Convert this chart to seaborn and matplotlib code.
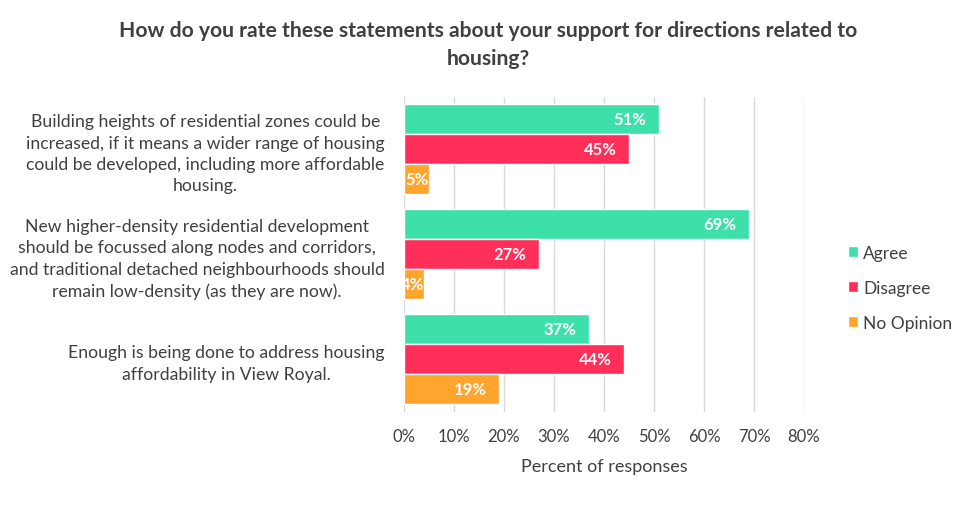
import matplotlib
matplotlib.use("Agg")
import matplotlib.pyplot as plt
import seaborn as sns
import pandas as pd

# survey data (percent of responses)
statements = [
    "Building heights of residential zones could be\nincreased, if it means a wider range of housing\ncould be developed, including more affordable\nhousing.",
    "New higher-density residential development\nshould be focussed along nodes and corridors,\nand traditional detached neighbourhoods should\nremain low-density (as they are now).",
    "Enough is being done to address housing\naffordability in View Royal.",
]
responses = ["Agree", "Disagree", "No Opinion"]
agree = [51, 69, 37]
disagree = [45, 27, 44]
no_opinion = [5, 4, 19]
x_ticks = [0, 10, 20, 30, 40, 50, 60, 70, 80]

colors = {"Agree": "#3ee0a9", "Disagree": "#ff2f5a", "No Opinion": "#ffa42c"}
text_col = "#404040"

rows = []
for i, s in enumerate(statements):
    for r, vals in zip(responses, [agree, disagree, no_opinion]):
        rows.append({"statement": s, "response": r, "pct": vals[i]})
df = pd.DataFrame(rows)

sns.set_style("white")
plt.rcParams["font.family"] = ["Lato", "DejaVu Sans"]

fig = plt.figure(figsize=(9.76, 5.06), dpi=100)
ax = fig.add_axes([404 / 976, 1 - 412.5 / 506, 400 / 976, 315 / 506])

sns.barplot(data=df, x="pct", y="statement", hue="response", orient="h",
            palette=colors, width=0.86, saturation=1, ax=ax, legend=True)

# value labels inside the bar ends (small bars: flush with the end, clipped)
for cont in ax.containers:
    for bar in cont:
        w = bar.get_width()
        pad = -9 if w > 8 else 0
        ax.annotate(f"{w:.0f}%", (w, bar.get_y() + bar.get_height() / 2),
                    xytext=(pad, 0), textcoords="offset points",
                    ha="right", va="center", color="white",
                    fontsize=12, fontweight="bold", annotation_clip=True,
                    clip_on=True)

ax.set_xlim(0, 80)
ax.set_xticks(x_ticks)
ax.set_xticklabels([f"{t}%" for t in x_ticks], fontsize=12, color=text_col)
ax.set_ylim(2.5, -0.5)
ax.set_yticks(range(len(statements)))
ax.set_yticklabels(statements, fontsize=12.7, color=text_col,
                   multialignment="center", linespacing=1.42)
ax.tick_params(axis="y", length=0, pad=14)
ax.tick_params(axis="x", length=0, pad=12)
ax.grid(axis="x", color="#d9d9d9", linewidth=1)
ax.set_axisbelow(True)
for sp in ax.spines.values():
    sp.set_visible(False)
ax.set_ylabel("")
ax.set_xlabel("Percent of responses", fontsize=13, color=text_col, labelpad=10)

ax.legend(frameon=False, fontsize=12.5,
          handlelength=0.6, handleheight=0.6, handletextpad=0.3,
          labelspacing=1.1, labelcolor=text_col,
          loc="center left")
ax.get_legend().set_bbox_to_anchor((832 / 976, 1 - 289 / 506), transform=fig.transFigure)

fig.text(0.5, 1 - 45 / 506,
         "How do you rate these statements about your support for directions related to\nhousing?",
         ha="center", va="center", fontsize=15.2, fontweight="bold",
         color=text_col, linespacing=1.55)

fig.savefig("out.png", dpi=100, facecolor="white")
